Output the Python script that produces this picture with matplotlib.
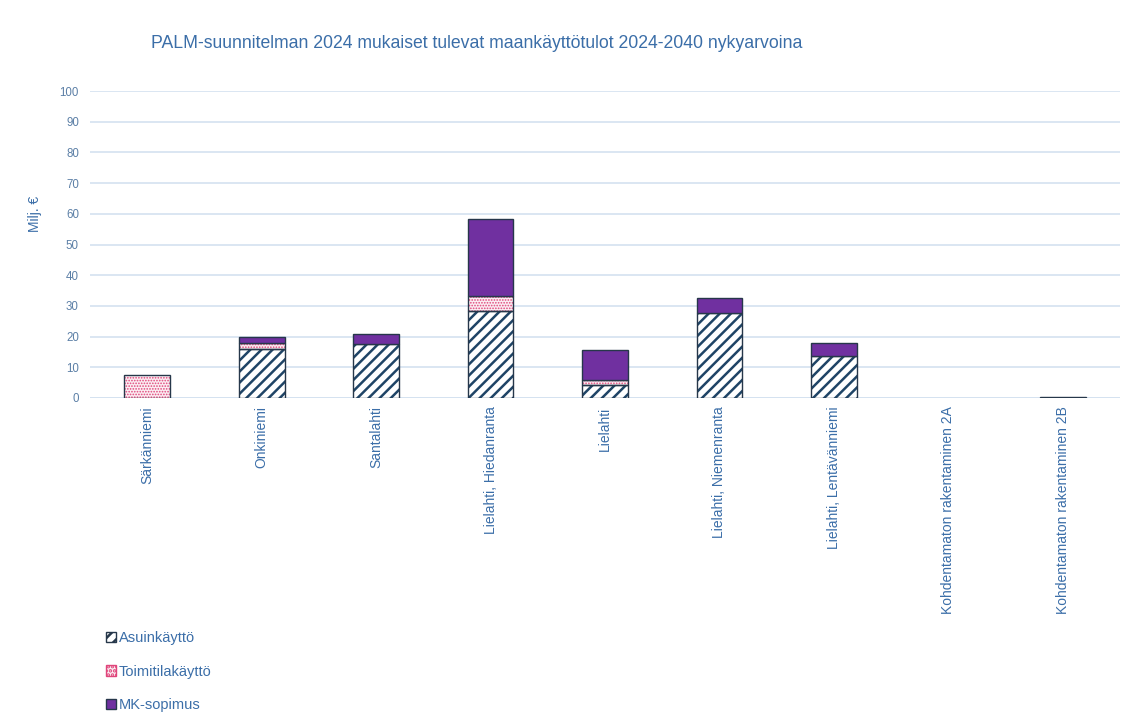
import matplotlib
matplotlib.use("Agg")
import matplotlib.pyplot as plt
import numpy as np
from matplotlib.patches import Patch

plt.rcParams['font.family'] = ['Liberation Sans', 'DejaVu Sans']
plt.rcParams['hatch.linewidth'] = 1.8

categories = ["Särkänniemi", "Onkiniemi", "Santalahti", "Lielahti, Hiedanranta", "Lielahti",
              "Lielahti, Niemenranta", "Lielahti, Lentävänniemi",
              "Kohdentamaton rakentaminen 2A", "Kohdentamaton rakentaminen 2B"]
asuin = [0.0, 15.9, 17.5, 28.3, 4.1, 27.8, 13.8, 0.0, 0.4]
toimitila = [7.6, 1.9, 0.0, 4.9, 1.8, 0.0, 0.0, 0.0, 0.0]
mk = [0.0, 2.1, 3.5, 25.1, 9.8, 4.9, 4.0, 0.0, 0.0]
series_names = ["Asuinkäyttö", "Toimitilakäyttö", "MK-sopimus"]
title = "PALM-suunnitelman 2024 mukaiset tulevat maankäyttötulot 2024-2040 nykyarvoina"
ylabel = "Milj. €"

text_col = "#3b6ea8"
tick_col = "#5b7fa6"
edge = "#26374a"
stripe = "#1f4466"
pink = "#e0457b"
purple = "#7030a0"
grid_col = "#d4e2f0"

fig = plt.figure(figsize=(11.29, 7.25), dpi=100)
ax = fig.add_axes([90/1129, 1-398/725, (1120-90)/1129, (398-91)/725])

x = np.arange(len(categories))
w = 0.4
a = np.array(asuin); t = np.array(toimitila); m = np.array(mk)

def nz(v):
    return v > 0

# Asuinkäyttö: white with stripes
sel = nz(a)
ax.bar(x[sel], a[sel], w, color="white", edgecolor=stripe, hatch="///", linewidth=0, zorder=3)
ax.bar(x[sel], a[sel], w, color="none", edgecolor=edge, linewidth=1.0, zorder=4)
# Toimitila: dotted pink
sel = nz(t)
with plt.rc_context({'hatch.linewidth': 0.8}):
    ax.bar(x[sel], t[sel], w, bottom=a[sel], color="#fbeef3", edgecolor=pink, hatch="......",
           linewidth=0, zorder=3)
ax.bar(x[sel], t[sel], w, bottom=a[sel], color="none", edgecolor=edge, linewidth=1.0, zorder=4)
# MK
sel = nz(m)
ax.bar(x[sel], m[sel], w, bottom=(a + t)[sel], color=purple, edgecolor=edge, linewidth=1.0, zorder=4)

ax.set_xlim(-0.5, len(categories) - 0.5)
ax.set_ylim(0, 100)
ax.set_yticks(np.arange(0, 101, 10))
ax.grid(axis="y", color=grid_col, linewidth=1.2, zorder=0)
for s in ax.spines.values():
    s.set_visible(False)
ax.axhline(0, color=grid_col, linewidth=1.2, zorder=1)
ax.tick_params(axis="y", length=0, labelsize=8.3, labelcolor=tick_col, pad=8)
ax.tick_params(axis="x", length=0, pad=6)
ax.set_xticks(x)
ax.set_xticklabels(categories, rotation=90, fontsize=10, color=text_col, va="top")
ax.set_ylabel(ylabel, color=text_col, fontsize=10)
ax.yaxis.set_label_coords(-0.047, 0.6)

fig.text(477/1129, 1-43/725, title, ha="center", va="center", fontsize=12.7, color=text_col)

handles = [
    Patch(facecolor="white", edgecolor=edge, hatch="///", label=series_names[0]),
    Patch(facecolor="#fbeef3", edgecolor=pink, hatch="....", label=series_names[1]),
    Patch(facecolor=purple, edgecolor=edge, label=series_names[2]),
]
leg = fig.legend(handles=handles, loc="upper left", bbox_to_anchor=(100/1129, 1-625/725),
                 frameon=False, fontsize=10.5, handlelength=0.7, handleheight=0.7,
                 handletextpad=0.2, labelspacing=1.35, borderaxespad=0)
for txt in leg.get_texts():
    txt.set_color(text_col)

fig.savefig("out.png", dpi=100, facecolor="white")
